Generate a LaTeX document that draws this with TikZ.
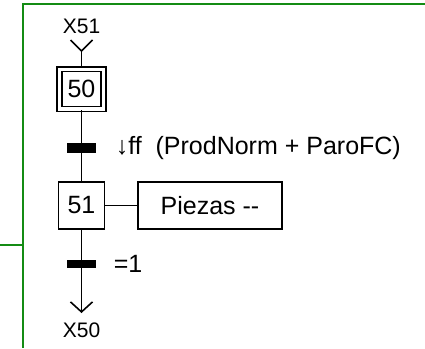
\documentclass[tikz,border=0pt]{standalone}
\usepackage{fontspec}
\setmainfont{Liberation Sans}
\usetikzlibrary{arrows.meta}
\definecolor{framegreen}{RGB}{20,140,20}
\begin{document}
\begin{tikzpicture}[x=1pt,y=-1pt,
  line width=1.6pt,
  stepbox/.style={draw, inner sep=0pt, font=\fontsize{25}{25}\selectfont},
  actbox/.style={draw, inner sep=0pt, font=\fontsize{25}{25}\selectfont},
  bar/.style={fill=black, inner sep=0pt, minimum width=29pt, minimum height=10pt},
  cond/.style={anchor=west, inner sep=0pt, font=\fontsize{25}{25}\selectfont},
  ref/.style={inner sep=0pt, font=\fontsize{21}{21}\selectfont},
  frame/.style={draw=framegreen, line width=2pt}]
  \useasboundingbox (0,0) rectangle (425,348);

  % green frame of the enclosing step
  \draw[frame] (425,4) -- (23,4) -- (23,348);
  \draw[frame] (0,245) -- (23,245);

  % initial step 50 with its double border
  \node[stepbox, minimum width=39pt, minimum height=35pt] (s50) at (81.5,89) {50};
  \draw ([xshift=-4pt,yshift=4pt]s50.north west) rectangle ([xshift=4pt,yshift=-4pt]s50.south east);
  \coordinate (s50top) at (81.5,68);
  \coordinate (s50bot) at (81.5,110);

  % step 51 and its action
  \node[stepbox, minimum width=46pt, minimum height=47pt] (s51) at (81.5,205.5) {51};
  \node[actbox, minimum width=144pt, minimum height=47pt] (a51) at (210,205.5) {Piezas -{}-};

  % incoming link from X51
  \node[ref] (x51) at (81.5,26) {X51};
  \coordinate (fork) at (81.5,51);
  \draw (fork) ++(-11,-11) -- (fork) -- ++(11,-11);
  \draw (fork) -- (s50top);

  % transition 50 -> 51
  \draw (s50bot) -- (s51.north);
  \node[bar] (t1) at (81.5,148) {};
  \node[cond] (c1) at (115,148) {↓ff\ \ (ProdNorm + ParoFC)};

  % action link
  \draw (s51.east) -- (a51.west);

  % transition 51 -> X50
  \coordinate (tip) at (81.5,313);
  \draw[-{Straight Barb[length=10pt,width=22pt,line width=1.6pt]}] (s51.south) -- (tip);
  \node[bar, minimum height=8pt] (t2) at (81.5,263.5) {};
  \node[cond] (c2) at (113,263.5) {=1};
  \node[ref] (x50) at (81.5,330) {X50};
\end{tikzpicture}
\end{document}
